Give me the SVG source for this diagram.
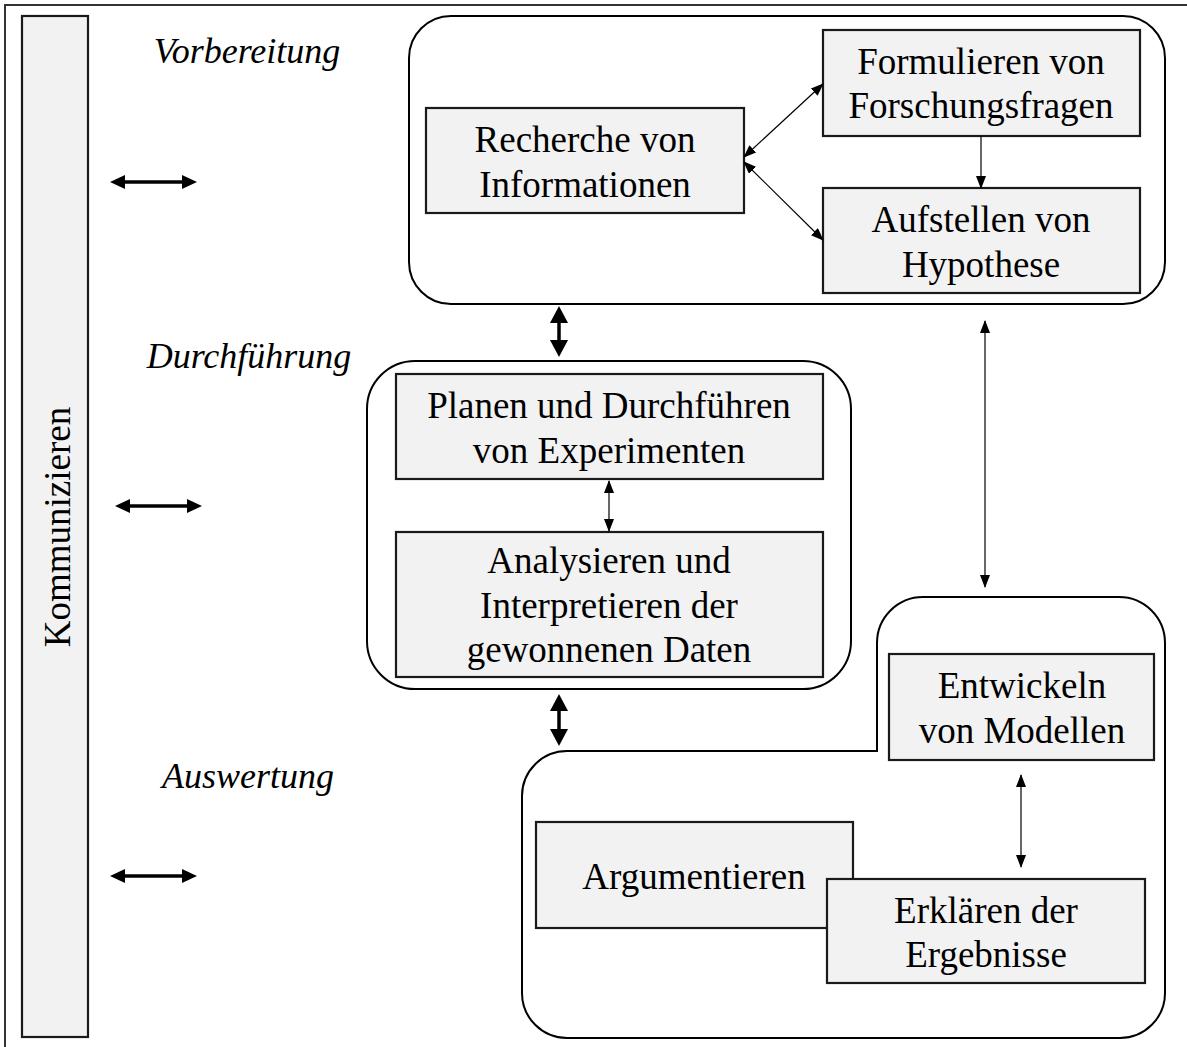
<svg xmlns="http://www.w3.org/2000/svg" width="1187" height="1047" viewBox="0 0 1187 1047">
<style>
.frame{fill:none;stroke:#333;stroke-width:2}
.cont{fill:#fff;stroke:#000;stroke-width:2}
.box{fill:#f2f2f2;stroke:#1a1a1a;stroke-width:2.2}
.t{font-family:"Liberation Serif","Times New Roman",serif;font-size:37px;fill:#000;text-anchor:middle}
.lab{font-family:"Liberation Serif","Times New Roman",serif;font-size:36px;font-style:italic;fill:#000;text-anchor:middle}
.thin{stroke:#000;stroke-width:1.2;fill:none}
.thick{stroke:#000;stroke-width:3.5;fill:none}
</style>
<defs>
<marker id="aThin" markerUnits="userSpaceOnUse" markerWidth="13" markerHeight="10" refX="12" refY="5" orient="auto-start-reverse"><path d="M0,0 L13,5 L0,10 z" fill="#000"/></marker>
<marker id="aThinEnd" markerUnits="userSpaceOnUse" markerWidth="13" markerHeight="10" refX="12" refY="5" orient="auto"><path d="M0,0 L13,5 L0,10 z" fill="#000"/></marker>
<marker id="aThickH" markerUnits="userSpaceOnUse" markerWidth="15" markerHeight="14" refX="9" refY="7" orient="auto-start-reverse"><path d="M0,0 L15,7 L0,14 z" fill="#000"/></marker>
<marker id="aThickV" markerUnits="userSpaceOnUse" markerWidth="17" markerHeight="18" refX="11" refY="9" orient="auto-start-reverse"><path d="M0,0 L17,9 L0,18 z" fill="#000"/></marker>
</defs>
<rect class="frame" x="5" y="5" width="1300" height="1300"/>
<g id="kommunizieren">
<rect class="box" x="22" y="16" width="66" height="1021"/>
<text class="t" transform="translate(70,527) rotate(-90)">Kommunizieren</text>
</g>
<g id="labels">
<text class="lab" x="247" y="63">Vorbereitung</text>
<text class="lab" x="249" y="368">Durchführung</text>
<text class="lab" x="248" y="788">Auswertung</text>
</g>
<g id="vorbereitung">
<rect class="cont" x="409" y="16" width="756" height="288" rx="42" ry="42"/>
</g>
<g id="recherche">
<rect class="box" x="426" y="108" width="318" height="105"/>
<text class="t" x="585" y="152">Recherche von</text>
<text class="t" x="585" y="197">Informationen</text>
</g>
<g id="formulieren">
<rect class="box" x="823" y="30" width="317" height="106"/>
<text class="t" x="981" y="74">Formulieren von</text>
<text class="t" x="981" y="118">Forschungsfragen</text>
</g>
<g id="aufstellen">
<rect class="box" x="823" y="188" width="317" height="105"/>
<text class="t" x="981" y="232">Aufstellen von</text>
<text class="t" x="981" y="277">Hypothese</text>
</g>
<g id="durchfuehrung">
<rect class="cont" x="367" y="361" width="484" height="328" rx="48" ry="48"/>
</g>
<g id="planen">
<rect class="box" x="396" y="374" width="427" height="105"/>
<text class="t" x="609" y="418">Planen und Durchführen</text>
<text class="t" x="609" y="463">von Experimenten</text>
</g>
<g id="analysieren">
<rect class="box" x="396" y="532" width="427" height="145"/>
<text class="t" x="609" y="573">Analysieren und</text>
<text class="t" x="609" y="618">Interpretieren der</text>
<text class="t" x="609" y="662">gewonnenen Daten</text>
</g>
<g id="auswertung">
<path class="cont" d="M877,751 L877,643 A46,46 0 0 1 923,597 L1119,597 A46,46 0 0 1 1165,643 L1165,993 A45,45 0 0 1 1120,1038 L567,1038 A45,45 0 0 1 522,993 L522,796 A45,45 0 0 1 567,751 Z"/>
</g>
<g id="entwickeln">
<rect class="box" x="889" y="654" width="265" height="106"/>
<text class="t" x="1022" y="698">Entwickeln</text>
<text class="t" x="1022" y="743">von Modellen</text>
</g>
<g id="argumentieren">
<rect class="box" x="536" y="822" width="317" height="106"/>
<text class="t" x="694" y="889">Argumentieren</text>
</g>
<g id="erklaeren">
<rect class="box" x="827" y="879" width="318" height="104"/>
<text class="t" x="986" y="923">Erklären der</text>
<text class="t" x="986" y="967">Ergebnisse</text>
</g>
<g id="connectors">
<line class="thin" x1="744" y1="157" x2="823" y2="84" marker-start="url(#aThin)" marker-end="url(#aThin)"/>
<line class="thin" x1="744" y1="162" x2="823" y2="240" marker-start="url(#aThin)" marker-end="url(#aThin)"/>
<line class="thin" x1="981" y1="136" x2="981" y2="188" marker-end="url(#aThinEnd)"/>
<line class="thin" x1="609" y1="481" x2="609" y2="531" marker-start="url(#aThin)" marker-end="url(#aThin)"/>
<line class="thin" x1="985" y1="321" x2="985" y2="587" marker-start="url(#aThin)" marker-end="url(#aThin)"/>
<line class="thin" x1="1021" y1="775" x2="1021" y2="867" marker-start="url(#aThin)" marker-end="url(#aThin)"/>
<line class="thick" x1="559" y1="312" x2="559" y2="351" marker-start="url(#aThickV)" marker-end="url(#aThickV)"/>
<line class="thick" x1="559" y1="700" x2="559" y2="740" marker-start="url(#aThickV)" marker-end="url(#aThickV)"/>
<line class="thick" x1="116" y1="182" x2="191" y2="182" marker-start="url(#aThickH)" marker-end="url(#aThickH)"/>
<line class="thick" x1="121" y1="506" x2="196" y2="506" marker-start="url(#aThickH)" marker-end="url(#aThickH)"/>
<line class="thick" x1="116" y1="876" x2="191" y2="876" marker-start="url(#aThickH)" marker-end="url(#aThickH)"/>
</g>
</svg>
